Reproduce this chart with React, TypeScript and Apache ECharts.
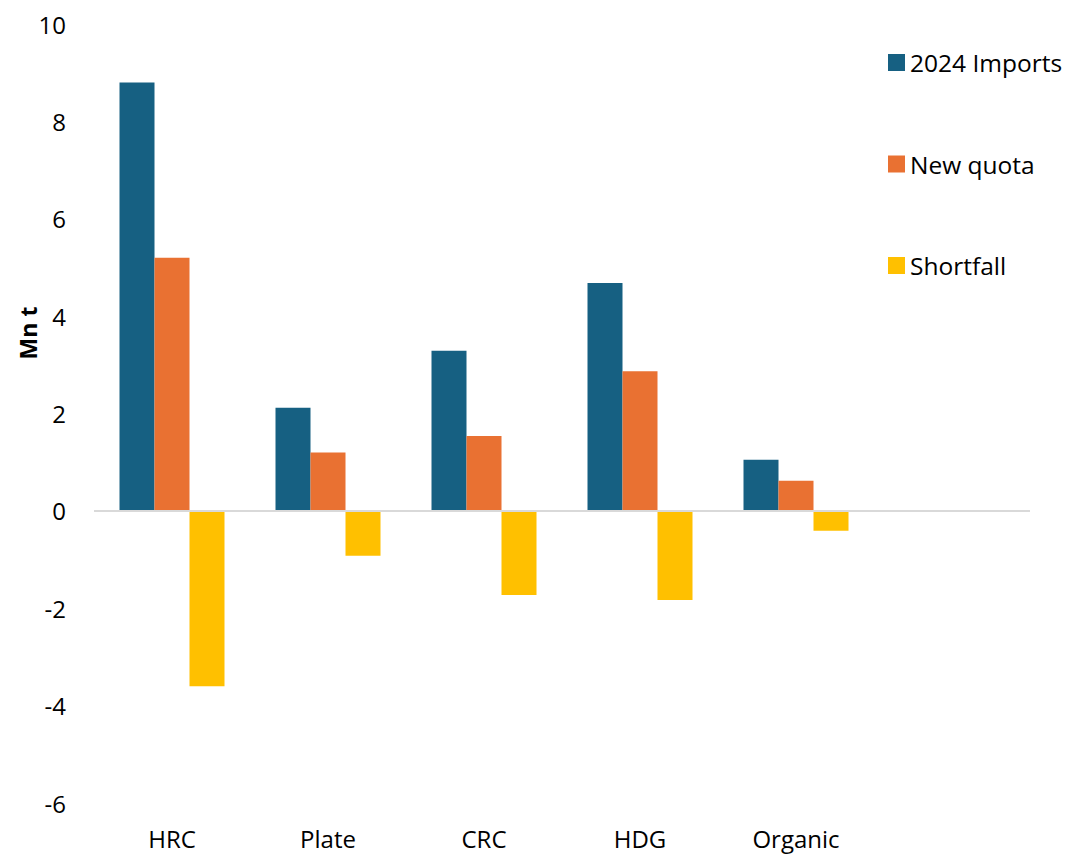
import React, { useEffect, useRef } from "react";
import * as echarts from "echarts";

const categories = ["HRC", "Plate", "CRC", "HDG", "Organic", ""];
const imports2024 = [8.8, 2.12, 3.29, 4.68, 1.05, null];
const newQuota = [5.2, 1.2, 1.54, 2.87, 0.62, null];
const shortfall = [-3.6, -0.92, -1.73, -1.83, -0.41, null];
const yTicks = { min: -6, max: 10, interval: 2 };

const FONT = "'Open Sans', 'Noto Sans', sans-serif";

export default function App() {
  const ref = useRef<HTMLDivElement>(null);

  useEffect(() => {
    if (!ref.current) return;
    const chart = echarts.init(ref.current, undefined, { renderer: "svg" });
    chart.setOption({
      animation: false,
      backgroundColor: "#ffffff",
      textStyle: { fontFamily: FONT },
      grid: { left: 94, right: 44, top: 24, bottom: 54, containLabel: false },
      legend: {
        orient: "vertical",
        left: 883,
        top: 45,
        itemWidth: 17,
        itemHeight: 17,
        itemGap: 76.5,
        icon: "rect",
        textStyle: { fontFamily: FONT, fontSize: 24.5, color: "#000", padding: 0 },
        data: ["2024 Imports", "New quota", "Shortfall"],
      },
      xAxis: {
        type: "category",
        data: categories,
        axisLine: { show: false, onZero: false },
        axisTick: { show: false },
        axisLabel: { fontFamily: FONT, fontSize: 24, color: "#000", margin: 23 },
      },
      yAxis: {
        type: "value",
        min: yTicks.min,
        max: yTicks.max,
        interval: yTicks.interval,
        splitLine: { show: false },
        axisLine: { show: false },
        axisTick: { show: false },
        axisLabel: { fontFamily: FONT, fontSize: 24, color: "#000", margin: 28 },
      },
      graphic: [
        {
          type: "text",
          x: 28,
          y: 333,
          rotation: Math.PI / 2,
          style: {
            text: "Mn t",
            fontFamily: FONT,
            fontSize: 23,
            fontWeight: "bold",
            fill: "#000",
            textAlign: "center",
            textVerticalAlign: "middle",
          },
        },
      ],
      series: [
        {
          name: "2024 Imports",
          type: "bar",
          data: imports2024,
          barWidth: 35,
          barGap: "0%",
          itemStyle: { color: "#166082" },
          markLine: {
            silent: true,
            symbol: "none",
            label: { show: false },
            lineStyle: { color: "#d9d9d9", width: 2, type: "solid" },
            data: [{ yAxis: 0 }],
          },
        },
        {
          name: "New quota",
          type: "bar",
          data: newQuota,
          barWidth: 35,
          barGap: "0%",
          itemStyle: { color: "#e97132" },
        },
        {
          name: "Shortfall",
          type: "bar",
          data: shortfall,
          barWidth: 35,
          barGap: "0%",
          itemStyle: { color: "#ffc000" },
        },
      ],
    });
    return () => chart.dispose();
  }, []);

  return (
    <div
      ref={ref}
      style={{ position: "absolute", left: 0, top: 0, width: 1074, height: 857 }}
    />
  );
}
